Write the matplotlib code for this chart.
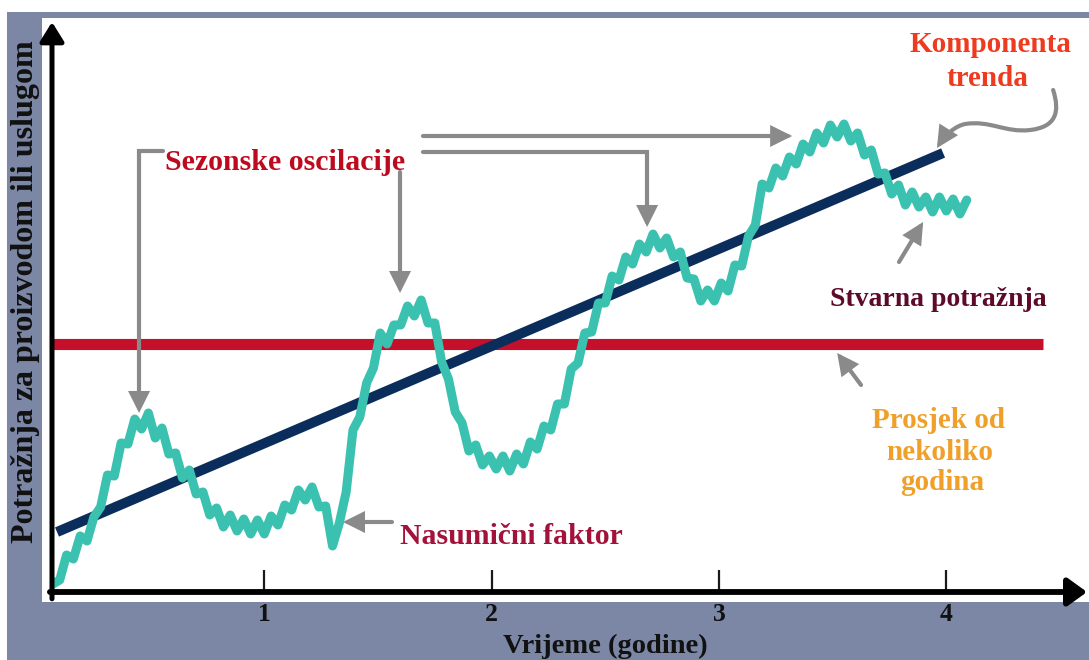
import matplotlib
matplotlib.use("Agg")
import matplotlib.pyplot as plt
from matplotlib.patches import Rectangle, FancyArrowPatch
from matplotlib.path import Path

plt.rcParams['font.family'] = ['Liberation Serif', 'DejaVu Serif']
plt.rcParams['font.weight'] = 'bold'

# ---------------- data ----------------
# time in years
time_years = [
    0.07, 0.10, 0.13, 0.16, 0.19, 0.22, 0.25, 0.28, 0.31, 0.34,
    0.37, 0.40, 0.43, 0.46, 0.49, 0.52, 0.55, 0.58, 0.61, 0.64,
    0.67, 0.70, 0.73, 0.76, 0.79, 0.82, 0.85, 0.88, 0.91, 0.94,
    0.97, 1.00, 1.03, 1.06, 1.09, 1.12, 1.15, 1.18, 1.21, 1.24,
    1.27, 1.30, 1.33, 1.36, 1.39, 1.42, 1.45, 1.48, 1.51, 1.54,
    1.57, 1.60, 1.63, 1.66, 1.69, 1.72, 1.75, 1.78, 1.81, 1.84,
    1.87, 1.90, 1.93, 1.96, 1.99, 2.02, 2.05, 2.08, 2.11, 2.14,
    2.17, 2.20, 2.23, 2.26, 2.29, 2.32, 2.35, 2.38, 2.41, 2.44,
    2.47, 2.50, 2.53, 2.56, 2.59, 2.62, 2.65, 2.68, 2.71, 2.74,
    2.77, 2.80, 2.83, 2.86, 2.89, 2.92, 2.95, 2.98, 3.01, 3.04,
    3.07, 3.10, 3.13, 3.16, 3.19, 3.22, 3.25, 3.28, 3.31, 3.34,
    3.37, 3.40, 3.43, 3.46, 3.49, 3.52, 3.55, 3.58, 3.61, 3.64,
    3.67, 3.70, 3.73, 3.76, 3.79, 3.82, 3.85, 3.88, 3.91, 3.94,
    3.97, 4.00, 4.03, 4.06, 4.09,
]
# actual demand (arbitrary units)
actual_demand = [
    8, 12, 37, 33, 56, 51, 75, 85, 117, 116,
    149, 148, 173, 163, 179, 154, 164, 138, 139, 114,
    122, 98, 100, 77, 84, 65, 77, 61, 73, 58,
    72, 58, 76, 67, 87, 82, 102, 92, 105, 85,
    86, 46, 69, 100, 162, 175, 209, 224, 259, 248,
    267, 267, 286, 276, 292, 269, 269, 230, 213, 180,
    169, 141, 147, 127, 136, 123, 136, 121, 138, 128,
    150, 143, 166, 162, 188, 188, 223, 229, 259, 260,
    289, 289, 316, 312, 335, 328, 348, 340, 358, 344,
    354, 335, 340, 314, 313, 291, 302, 291, 309, 301,
    327, 326, 356, 367, 408, 404, 424, 416, 435, 428,
    448, 440, 459, 449, 467, 455, 468, 451, 459, 437,
    442, 418, 419, 398, 407, 387, 400, 385, 395, 380,
    395, 381, 393, 378, 392,
]
trend_x = [0.088, 3.986]
trend_y = [60, 439]
average_x = [0.066, 4.426]
average_y = [248, 248]

tick_years = [1, 2, 3, 4]
tick_labels = ['1', '2', '3', '4']

# ---------------- colours ----------------
SLATE = '#7b87a4'
TEAL = '#3bc1b0'
NAVY = '#0b2d5b'
RED = '#c5102c'
GREY = '#8a8a8a'

W, H = 1089, 660
fig = plt.figure(figsize=(W / 100, H / 100), dpi=100)
fig.patch.set_facecolor('white')
fig.add_artist(Rectangle((7 / W, 0), 1, 1 - 12 / H, transform=fig.transFigure,
                         facecolor=SLATE, edgecolor='none', zorder=-3))
fig.add_artist(Rectangle((42 / W, 1 - 602 / H), 1, (602 - 18) / H, transform=fig.transFigure,
                         facecolor='white', edgecolor='none', zorder=-2))

ax = fig.add_axes([52 / W, 1 - 592 / H, (1087 - 52) / W, 570 / H])
ax.set_facecolor('none')
ax.set_xlim(0.066, 4.619)
ax.set_ylim(0, 570)
for s in ax.spines.values():
    s.set_visible(False)
ax.set_yticks([])
ax.set_xticks(tick_years)
ax.set_xticklabels(tick_labels)
ax.tick_params(axis='x', direction='in', length=16, width=1.6, color='#1a1a1a',
               pad=8, labelsize=18.5, labelcolor='#111111')

# axis arrows
ax.add_patch(FancyArrowPatch((0, -0.012), (0, 1.0), transform=ax.transAxes,
                             arrowstyle='-|>,head_length=0.58,head_width=0.36',
                             mutation_scale=20, lw=3.6, color='black', clip_on=False,
                             shrinkA=0, shrinkB=0, zorder=5))
ax.add_patch(FancyArrowPatch((-0.002, 0), (1.0, 0), transform=ax.transAxes,
                             arrowstyle='-|>,head_length=0.58,head_width=0.42',
                             mutation_scale=20, lw=4.2, color='black', clip_on=False,
                             shrinkA=0, shrinkB=0, zorder=5))

# series
ax.plot(average_x, average_y, color=RED, lw=8, solid_capstyle='butt', zorder=2)
ax.plot(trend_x, trend_y, color=NAVY, lw=7.2, solid_capstyle='butt', zorder=3)
ax.plot(time_years, actual_demand, color=TEAL, lw=6.5, solid_joinstyle='round',
        solid_capstyle='round', zorder=4)

# annotation arrows
astyle = '-|>,head_length=1.1,head_width=0.55'


def poly_arrow(verts, codes=None):
    p = Path(verts, codes)
    ax.add_patch(FancyArrowPatch(path=p, arrowstyle=astyle, mutation_scale=10,
                                 lw=3, color=GREY, joinstyle='miter', zorder=6))


poly_arrow([(0.554, 441), (0.449, 441), (0.449, 179)])
poly_arrow([(1.597, 420), (1.597, 299)])
poly_arrow([(1.698, 456), (3.322, 456)])
poly_arrow([(1.698, 440), (2.684, 440), (2.684, 365)])
poly_arrow([(1.562, 70), (1.346, 70)])
poly_arrow([(3.792, 330), (3.898, 370)])
poly_arrow([(3.625, 207), (3.520, 239)])
poly_arrow([(4.470, 502), (4.501, 480), (4.483, 465), (4.369, 462),
            (4.259, 459), (4.193, 472), (4.083, 468),
            (4.039, 466), (3.995, 457), (3.959, 444)],
           [Path.MOVETO, Path.CURVE4, Path.CURVE4, Path.CURVE4,
            Path.CURVE4, Path.CURVE4, Path.CURVE4,
            Path.CURVE4, Path.CURVE4, Path.CURVE4])

# annotation texts
ax.text(0.563, 429, 'Sezonske oscilacije', color='#be0a1e', fontsize=21.5,
        ha='left', va='center', zorder=7)
ax.text(4.193, 547, 'Komponenta', color='#ee3b1f', fontsize=21, ha='center', va='center')
ax.text(4.180, 514, 'trenda', color='#ee3b1f', fontsize=21, ha='center', va='center')
ax.text(3.489, 293, 'Stvarna potražnja', color='#5e0b2b', fontsize=20, ha='left', va='center')
ax.text(3.964, 172, 'Prosjek od', color='#f0a028', fontsize=21, ha='center', va='center')
ax.text(3.973, 140, 'nekoliko', color='#f0a028', fontsize=21, ha='center', va='center')
ax.text(3.981, 110, 'godina', color='#f0a028', fontsize=21, ha='center', va='center')
ax.text(1.597, 55, 'Nasumični faktor', color='#a3123a', fontsize=21.4, ha='left', va='center')

# axis titles
fig.text(26 / W, 1 - 292 / H, 'Potražnja za proizvodom ili uslugom', rotation=90,
         ha='center', va='center', fontsize=23, color='#111111')
fig.text(605 / W, 1 - 653 / H, 'Vrijeme (godine)', ha='center', va='baseline',
         fontsize=20.5, color='#111111')

fig.savefig('out.png', dpi=100)
